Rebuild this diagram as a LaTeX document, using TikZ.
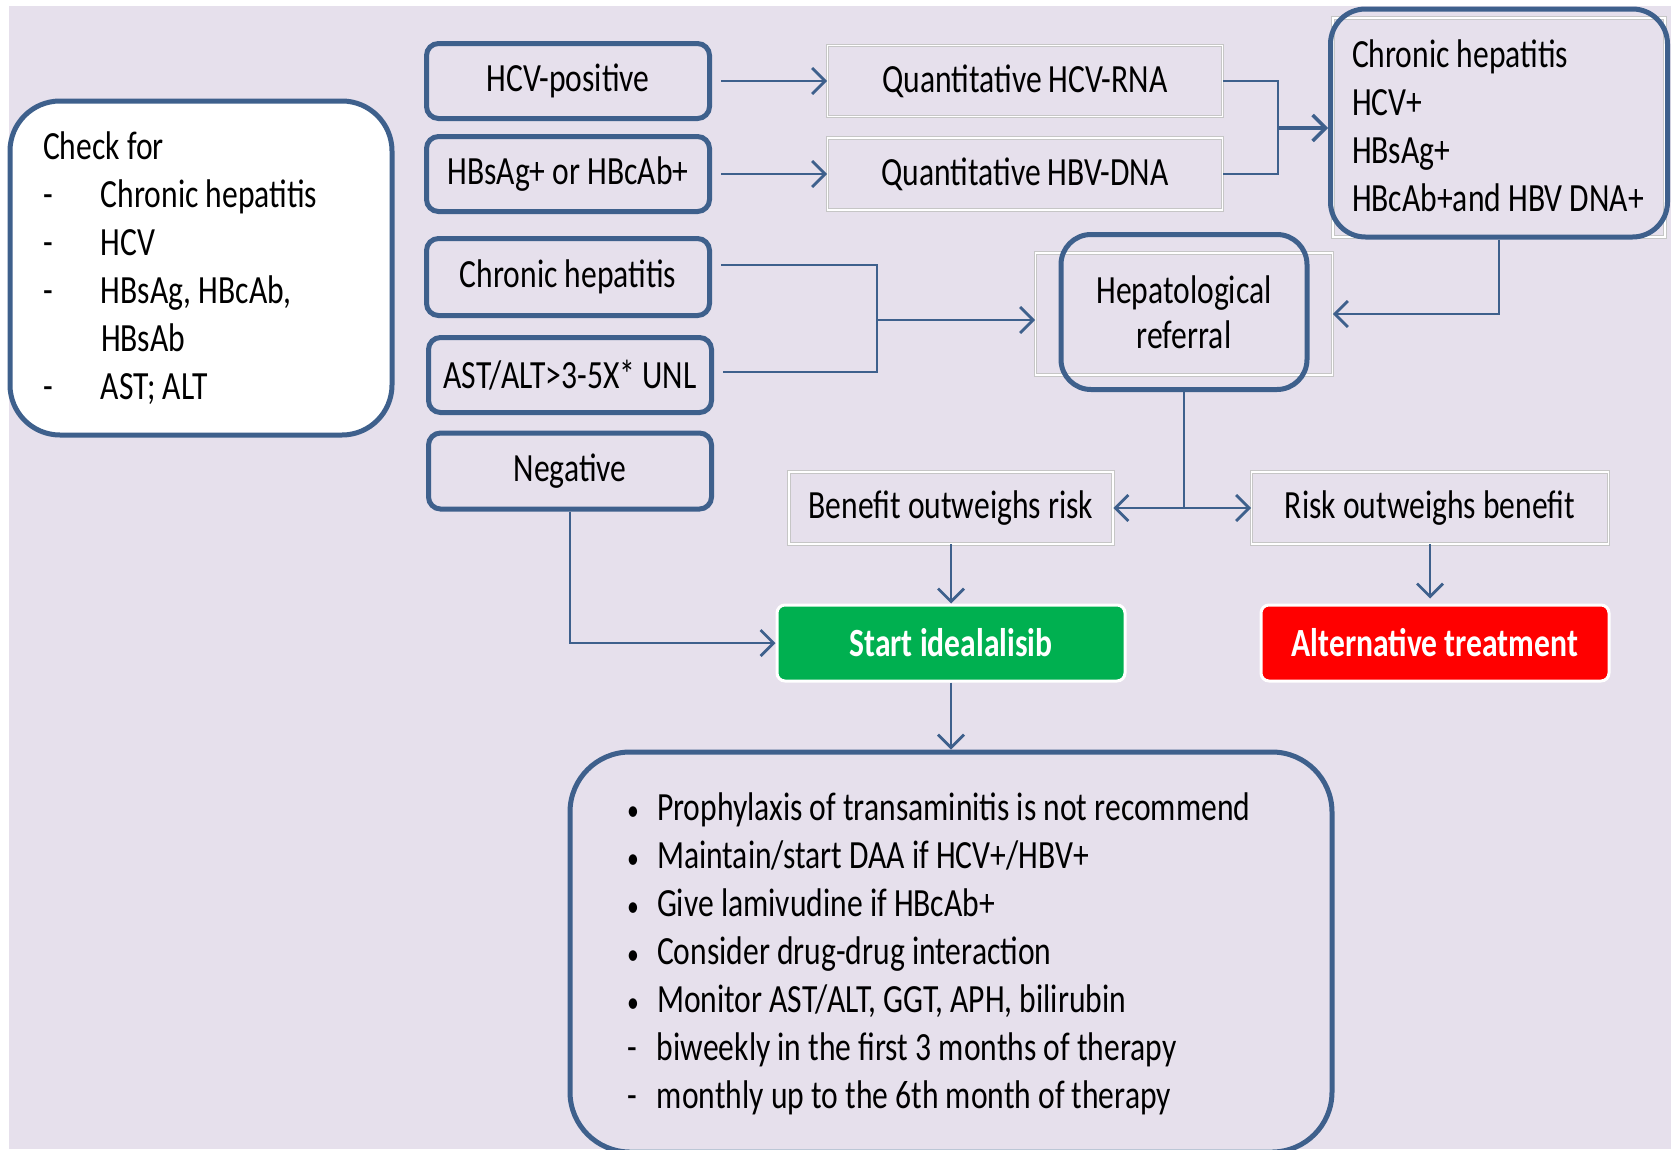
\documentclass[tikz,border=0pt]{standalone}
\usepackage{fontspec}
\setmainfont{Carlito}[FakeStretch=0.79]
\usetikzlibrary{arrows.meta}
\definecolor{bglav}{RGB}{230,224,236}
\definecolor{edgeblue}{RGB}{62,96,140}
\definecolor{startgreen}{RGB}{0,176,80}
\definecolor{altred}{RGB}{255,0,0}
\newcommand{\dashitem}[1]{\makebox[58pt][l]{-}#1}
\newcommand{\noteitem}[2]{\makebox[30pt][l]{#1}#2}
\newcommand{\smallbullet}{{\fontsize{30}{30}\selectfont•}}
\tikzset{
  every node/.style={font=\fontsize{40}{48}\selectfont, inner sep=0pt},
  rbox/.style={draw=edgeblue, line width=5pt, rounded corners=12pt},
  pbox/.style={draw=gray!45, line width=0.8pt, double=white, double distance=1.6pt},
  colbox/.style={draw=white, line width=3pt, rounded corners=8pt, text=white,
    font=\fontsize{40}{48}\selectfont\bfseries, minimum width=348, minimum height=76},
  link/.style={draw=edgeblue, line width=2.8pt},
  arr/.style={link, -{Straight Barb[length=13pt,width=26pt]}},
}
\begin{document}
\begin{tikzpicture}[x=1pt, y=-1pt]
  \useasboundingbox (0,0) rectangle (1671,1149);
  \fill[white] (0,0) rectangle (1671,1149);
  \fill[bglav] (9,6) rectangle (1671,1149);

  % left column
  \node[rbox, fill=white, rounded corners=50pt, minimum width=382, minimum height=334] (check) at (201,268)
    {\parbox{316pt}{Check for\\
     \dashitem{Chronic hepatitis}\\
     \dashitem{HCV}\\
     \dashitem{HBsAg, HBcAb,}\\
     \hspace*{58pt}HBsAb\\
     \dashitem{AST; ALT}}};

  % first tests
  \node[rbox, minimum width=283, minimum height=75] (hcv) at (568,81) {HCV-positive};
  \node[rbox, minimum width=283, minimum height=75] (hbs) at (568,174) {HBsAg+ or HBcAb+};
  \node[rbox, minimum width=283, minimum height=77] (chr) at (568,277) {Chronic hepatitis};
  \node[rbox, minimum width=283, minimum height=75] (ast) at (570,375) {AST/ALT>3-5X* UNL};
  \node[rbox, minimum width=283, minimum height=76] (neg) at (570,471) {Negative};

  \node[pbox, minimum width=395, minimum height=71] (rna) at (1025,81) {Quantitative HCV-RNA};
  \node[pbox, minimum width=395, minimum height=72] (dna) at (1025,174) {Quantitative HBV-DNA};

  % chronic / referral
  \node[pbox, minimum width=332, minimum height=219] (chback) at (1499,127.5) {};
  \node[rbox, rounded corners=35pt, minimum width=337, minimum height=228] (chbox) at (1499,123)
    {\parbox{294pt}{\vspace*{6pt}Chronic hepatitis\\ HCV+\\ HBsAg+\\ HBcAb+and HBV DNA+}};

  \node[pbox, minimum width=297, minimum height=122] (hepbg) at (1184,314) {};
  \node[rbox, rounded corners=30pt, minimum width=246, minimum height=155, align=center,
        font=\fontsize{40}{45}\selectfont] (hep) at (1184,312) {Hepatological\\ referral};

  \node[pbox, minimum width=324, minimum height=72] (benefit) at (951,508) {Benefit outweighs risk};
  \node[pbox, minimum width=357, minimum height=72] (risk) at (1430,508) {Risk outweighs benefit};

  \node[colbox, fill=startgreen] (start) at (951,643) {Start idealalisib};
  \node[colbox, fill=altred] (alt) at (1435,643) {Alternative treatment};

  \node[rbox, rounded corners=60pt, minimum width=762, minimum height=400] (notes) at (951,952)
    {\parbox{648pt}{\vspace*{4pt}\noteitem{\smallbullet}{Prophylaxis of transaminitis is not recommend}\\
     \noteitem{\smallbullet}{Maintain/start DAA if HCV+/HBV+}\\
     \noteitem{\smallbullet}{Give lamivudine if HBcAb+}\\
     \noteitem{\smallbullet}{Consider drug-drug interaction}\\
     \noteitem{\smallbullet}{Monitor AST/ALT, GGT, APH, bilirubin}\\
     \noteitem{-}{biweekly in the first 3 months of therapy}\\
     \noteitem{-}{monthly up to the 6th month of therapy}}};

  % connectors
  \coordinate (j1) at (1278,128);
  \coordinate (j2) at (877,320);
  \coordinate (j3) at (hep.south |- benefit.east);

  \draw[arr, shorten <=9pt] (hcv.east) -- (rna.west);
  \draw[arr, shorten <=9pt] (hbs.east) -- (dna.west);
  \draw[link] (rna.east) -| (j1) |- (dna.east);
  \draw[arr, line width=3.5pt] (j1) -- (j1 -| chbox.west);
  \draw[arr] (chbox.south) |- (hepbg.east);
  \draw[link, shorten <=9pt] ([yshift=12pt]chr.east) -| (j2) |- ([shift={(9pt,3pt)}]ast.east);
  \draw[arr] (j2) -- (j2 -| hepbg.west);
  \draw[link] (hep.south) -- (j3);
  \draw[arr] (j3) -- (benefit.east);
  \draw[arr] (j3) -- (risk.west);
  \draw[arr] (benefit.south) -- (benefit.south |- start.north);
  \draw[arr, shorten >=5pt] (risk.south) -- (risk.south |- alt.north);
  \draw[arr] (neg.south) |- (start.west);
  \draw[arr] (start.south) -- (start.south |- notes.north);
\end{tikzpicture}
\end{document}
